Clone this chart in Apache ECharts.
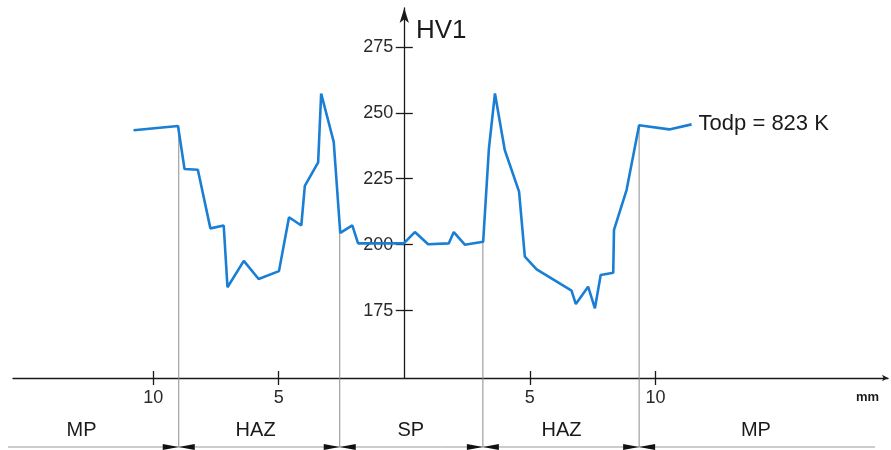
<!DOCTYPE html>
<html><head><meta charset="utf-8">
<script src="https://cdn.jsdelivr.net/npm/echarts@6/dist/echarts.min.js"></script>
<style>html,body{margin:0;padding:0;background:#fff}#c{width:891px;height:450px}</style>
</head><body><div id="c"></div>
<script>
const distanceMm = [-10.78,-9.01,-8.75,-8.22,-7.72,-7.19,-7.04,-6.39,-5.80,-4.99,-4.59,-4.10,-3.96,-3.43,-3.31,-2.81,-2.55,-2.07,-1.84,-0.02,0.42,0.95,1.77,1.97,2.41,3.14,3.37,3.61,4.00,4.57,4.80,5.27,6.66,6.83,7.32,7.59,7.82,8.32,8.35,8.85,9.35,10.55,11.44];
const hardnessHV = [243.4,245.0,228.7,228.4,206.2,207.3,183.9,193.9,187.0,190.0,210.4,207.3,222.3,231.2,257.3,239.0,204.5,207.3,200.5,200.5,204.8,200.2,200.5,204.8,200.0,201.1,236.5,257.3,235.9,220.1,195.5,190.7,182.6,177.5,184.1,175.9,188.5,189.4,205.6,220.7,245.3,243.7,245.6];
const boundaryMm = [-8.98,-2.57,3.13,9.35];
const boundaryHV = [245.0,204.5,201.1,245.3];
const regionNames = ['MP','HAZ','SP','HAZ','MP'];
const regionCenterMm = [-12.85,-5.92,0.26,6.26,14.0];
const xTickValues = [-10,-5,5,10];
const yTickValues = [175,200,225,250,275];
const curveLabel = 'Todp = 823 K';
const yAxisTitle = 'HV1';
const xAxisUnit = 'mm';

const FONT = '"Liberation Sans", Arial, Helvetica, sans-serif';
const AXIS_COLOR = '#1a1a1a';
const X_MIN = -15.58, X_MAX = 19.26, Y_MIN = 149.5, Y_MAX = 289.7;
const GRID_LEFT = 13, GRID_RIGHT = 3, GRID_W = 891 - GRID_LEFT - GRID_RIGHT;
// y axis sits at x = 0 mm: shift it inward from the grid edges
const ZERO_FRAC = (0 - X_MIN) / (X_MAX - X_MIN);
const Y_AXIS_OFFSET_LEFT = -GRID_W * ZERO_FRAC;
const Y_AXIS_OFFSET_RIGHT = -GRID_W * (1 - ZERO_FRAC);

const chart = echarts.init(document.getElementById('c'), null, {renderer: 'canvas'});

const xBase = {
  type: 'value', min: X_MIN, max: X_MAX, position: 'bottom',
  splitLine: {show: false}
};
const yBase = {
  type: 'value', min: Y_MIN, max: Y_MAX,
  splitLine: {show: false}
};

chart.setOption({
  animation: false,
  backgroundColor: '#fff',
  title: [
    {text: yAxisTitle, left: 416, top: 18, padding: 0,
     textStyle: {fontSize: 26, fontWeight: 'normal', color: '#1a1a1a', fontFamily: FONT}},
    {text: xAxisUnit, left: 856, top: 391, padding: 0,
     textStyle: {fontSize: 13, fontWeight: 'bold', color: '#1a1a1a', fontFamily: FONT}}
  ],
  grid: {left: GRID_LEFT, right: GRID_RIGHT, top: 8, bottom: 72, containLabel: false, outerBoundsMode: 'none'},
  xAxis: [
    Object.assign({}, xBase, {
      axisLine: {show: true, onZero: false, symbol: ['none', 'arrow'], symbolSize: [5, 6],
                 lineStyle: {color: AXIS_COLOR, width: 1.3}},
      axisTick: {show: true, customValues: xTickValues, length: 7, lineStyle: {color: AXIS_COLOR, width: 1.3}},
      axisLabel: {show: true, customValues: xTickValues, formatter: v => String(Math.abs(v)),
                  fontSize: 18, color: '#2a2a2a', margin: 11, fontFamily: FONT}
    }),
    Object.assign({}, xBase, {
      axisLine: {show: true, onZero: false, lineStyle: {color: AXIS_COLOR, width: 1.3, opacity: 0}},
      axisTick: {show: true, inside: true, customValues: xTickValues, length: 7, lineStyle: {color: AXIS_COLOR, width: 1.3}},
      axisLabel: {show: false}
    })
  ],
  yAxis: [
    Object.assign({}, yBase, {
      position: 'left', offset: Y_AXIS_OFFSET_LEFT,
      axisLine: {show: true, onZero: false, symbol: ['none', 'arrow'], symbolSize: [7, 15],
                 lineStyle: {color: AXIS_COLOR, width: 1.3}},
      axisTick: {show: true, customValues: yTickValues, length: 8.5, lineStyle: {color: AXIS_COLOR, width: 1.3}},
      axisLabel: {show: true, customValues: yTickValues, fontSize: 18, color: '#2a2a2a', margin: 11, fontFamily: FONT}
    }),
    Object.assign({}, yBase, {
      position: 'right', offset: Y_AXIS_OFFSET_RIGHT,
      axisLine: {show: true, onZero: false, lineStyle: {color: AXIS_COLOR, width: 1.3, opacity: 0}},
      axisTick: {show: true, customValues: yTickValues, length: 8.5, lineStyle: {color: AXIS_COLOR, width: 1.3}},
      axisLabel: {show: false}
    })
  ],
  graphic: [
    {type: 'line', shape: {x1: 8, y1: 447, x2: 875, y2: 447}, style: {stroke: '#9a9a9a', lineWidth: 1}, silent: true}
  ],
  series: [
    {
      type: 'custom', xAxisIndex: 0, yAxisIndex: 0, clip: false, silent: true, z: 1,
      data: boundaryMm.map((b, i) => [b, boundaryHV[i]]),
      renderItem: (params, api) => {
        const top = api.coord([api.value(0), api.value(1)]);
        const cs = params.coordSys;
        const yb = cs.y + cs.height + 69;
        const x = top[0];
        return {type: 'group', children: [
          {type: 'line', shape: {x1: x, y1: top[1], x2: x, y2: yb}, style: {stroke: '#8c8c8c', lineWidth: 1}},
          {type: 'polygon', shape: {points: [[x, yb], [x - 16, yb - 3], [x - 16, yb + 3]]}, style: {fill: '#111'}},
          {type: 'polygon', shape: {points: [[x, yb], [x + 16, yb - 3], [x + 16, yb + 3]]}, style: {fill: '#111'}}
        ]};
      }
    },
    {
      type: 'custom', xAxisIndex: 0, yAxisIndex: 0, clip: false, silent: true,
      data: regionCenterMm.map((c, i) => [c, Y_MIN, i]),
      renderItem: (params, api) => {
        const p = api.coord([api.value(0), Y_MIN]);
        const cs = params.coordSys;
        return {type: 'text', x: p[0], y: cs.y + cs.height + 52,
          style: {text: regionNames[api.value(2)], fontSize: 20, fontFamily: FONT, fill: '#1a1a1a',
                  align: 'center', verticalAlign: 'middle'}};
      }
    },
    {
      type: 'line', xAxisIndex: 0, yAxisIndex: 0, z: 3,
      data: distanceMm.map((x, i) => [x, hardnessHV[i]]),
      symbol: 'none',
      lineStyle: {color: '#1a7fd4', width: 2.6},
      endLabel: {show: true, formatter: curveLabel, fontSize: 22, color: '#1a1a1a', distance: 7, fontFamily: FONT}
    }
  ]
});
</script>
</body></html>
